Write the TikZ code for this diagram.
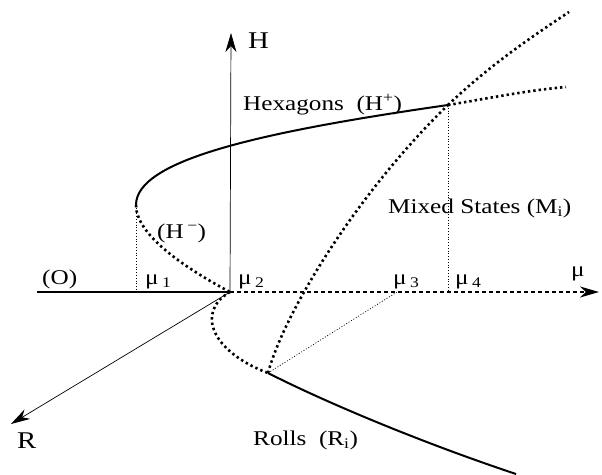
\documentclass[tikz,border=0pt]{standalone}
\usepackage{fontspec}
\setmainfont{Liberation Serif}[FakeStretch=1.2]
\usetikzlibrary{arrows.meta}

\begin{document}
\begin{tikzpicture}[x=1pt, y=-1pt,
  every node/.style={font=\fontsize{21}{25}\selectfont, inner sep=0pt, anchor=base west},
  axis/.style={line width=0.7pt},
  stable/.style={line width=2pt},
  unstable/.style={line width=2.6pt, dash pattern=on 2.4pt off 3pt},
  trivial/.style={line width=2pt, dash pattern=on 4pt off 3pt},
  guide/.style={line width=0.7pt, dash pattern=on 1pt off 1.8pt},
  tip/.style={-{Stealth[length=19pt, width=11pt, inset=6pt]}}]
  \useasboundingbox (0,0) rectangle (602,474);
  \coordinate (mu1) at (136,292);
  \coordinate (mu2) at (230,292);
  \coordinate (mu3) at (397,292);
  \coordinate (mu4) at (448,292);
  \coordinate (fold) at (136,205);
  \coordinate (hx) at (448,105);
  \coordinate (rx) at (268,373);
  \coordinate (left) at (37,292);
  \coordinate (mutip) at (599,292);
  \coordinate (Htip) at (231,33);
  \coordinate (Rtip) at (11,424);
  \coordinate (hend) at (566,87);
  \coordinate (mend) at (569,12);
  \coordinate (rend) at (516,474);
  % axes
  \draw[axis, tip] (mu2) -- (Htip);
  \draw[axis, tip] (mu2) -- (Rtip);
  \draw[stable] (left) -- (mu2);
  \draw[trivial, tip] (mu2) -- (mutip);
  % guides
  \draw[guide] (fold) -- (mu1);
  \draw[guide] (hx) -- (mu4);
  \draw[guide] (rx) -- (mu3);
  % hexagons
  \draw[stable] (fold) .. controls (136,160) and (260,132) .. (hx);
  \draw[unstable] (hx) .. controls (490,98) and (530,90) .. (hend);
  \draw[unstable] (fold) .. controls (136,235) and (185,268) .. (mu2);
  % rolls
  \draw[unstable] (mu2) .. controls (195,312) and (212,352) .. (rx);
  \draw[stable] (rx) .. controls (325,402) and (420,442) .. (rend);
  % mixed states
  \draw[unstable] (rx) .. controls (285,310) and (360,190) .. (hx);
  \draw[unstable] (hx) .. controls (490,65) and (530,38) .. (mend);
  % labels
  \node[font=\fontsize{24}{28}\selectfont] (Hlab) at (248,48) {H};
  \node[font=\fontsize{24}{28}\selectfont] (Rlab) at (17,448) {R};
  \node (mulab) at (571,276) {μ};
  \node (Olab) at (42,284) {(O)};
  \node (mu1lab) at (145,284) {μ\,\textsubscript{1}};
  \node (mu2lab) at (238,284) {μ\,\textsubscript{2}};
  \node (mu3lab) at (393,284) {μ\,\textsubscript{3}};
  \node (mu4lab) at (455,284) {μ\,\textsubscript{4}};
  \node (hexlab) at (243,110) {Hexagons\ \ (H\textsuperscript{+})};
  \node (hminlab) at (157,238) {(H\,\textsuperscript{−})};
  \node (mixlab) at (388,213) {Mixed States (M\textsubscript{i})};
  \node (rollab) at (253,445) {Rolls\ \ (R\textsubscript{i})};
\end{tikzpicture}
\end{document}
